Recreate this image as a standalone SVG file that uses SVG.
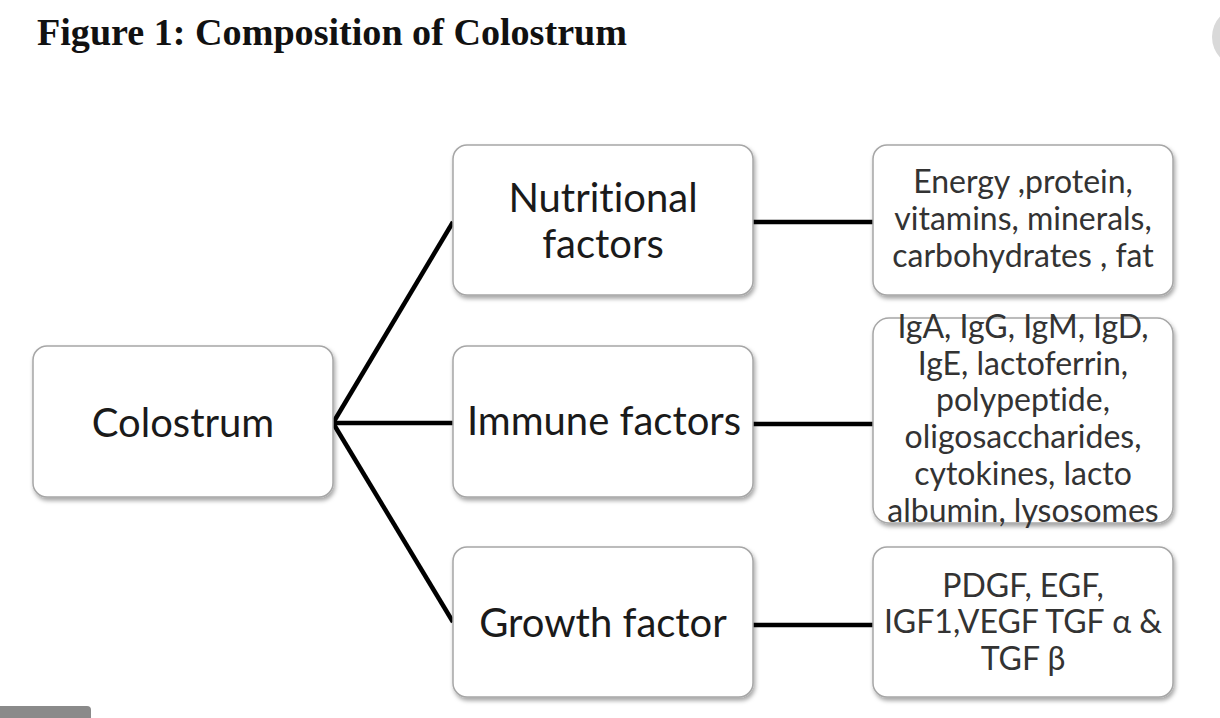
<svg xmlns="http://www.w3.org/2000/svg" width="1220" height="718" viewBox="0 0 1220 718">
<defs>
<filter id="sh" x="-10%" y="-10%" width="125%" height="130%">
<feDropShadow dx="1.5" dy="3" stdDeviation="2" flood-color="#000" flood-opacity="0.35"/>
</filter>
</defs>
<style>
.box{fill:#fff;stroke:#a6a6a6;stroke-width:1.5;filter:url(#sh)}
.main{font-family:Lato,"Open Sans",sans-serif;font-size:40px;fill:#1a1a1a;text-anchor:middle;font-variant-ligatures:none}
.small{font-family:Lato,"Open Sans",sans-serif;font-size:32px;fill:#333;text-anchor:middle;font-variant-ligatures:none}
.conn{stroke:#000;stroke-width:4.5;fill:none}
</style>
<rect width="1220" height="718" fill="#fff"/>
<text x="37" y="45" font-family="Liberation Serif,serif" font-weight="bold" font-size="37" fill="#111" textLength="590" lengthAdjust="spacingAndGlyphs">Figure 1: Composition of Colostrum</text>
<circle cx="1242" cy="37" r="30" fill="#d9d9d9"/>
<path d="M0 706 H87 Q91 706 91 710 V718 H0 Z" fill="#8a8a8a"/>
<g id="connectors">
<line class="conn" x1="333" y1="423" x2="453" y2="222"/>
<line class="conn" x1="333" y1="423" x2="453" y2="423"/>
<line class="conn" x1="333" y1="423" x2="453" y2="622"/>
<line class="conn" x1="753" y1="222" x2="873" y2="222"/>
<line class="conn" x1="753" y1="424" x2="873" y2="424"/>
<line class="conn" x1="753" y1="625" x2="873" y2="625"/>
</g>
<g id="colostrum">
<rect class="box" x="33" y="346" width="300" height="151" rx="14"/>
<text class="main" x="183" y="437">Colostrum</text>
</g>
<g id="nutritional">
<rect class="box" x="453" y="145" width="300" height="150" rx="14"/>
<text class="main" x="603" y="212">Nutritional</text>
<text class="main" x="603" y="258">factors</text>
</g>
<g id="immune">
<rect class="box" x="453" y="346" width="300" height="151" rx="14"/>
<text class="main" x="604" y="435">Immune factors</text>
</g>
<g id="growth">
<rect class="box" x="453" y="547" width="300" height="150" rx="14"/>
<text class="main" x="603" y="637">Growth factor</text>
</g>
<g id="nutritional-items">
<rect class="box" x="873" y="145" width="300" height="150" rx="14"/>
<text class="small" x="1023" y="193">Energy ,protein,</text>
<text class="small" x="1023" y="230">vitamins, minerals,</text>
<text class="small" x="1023" y="267">carbohydrates , fat</text>
</g>
<g id="immune-items">
<rect class="box" x="873" y="318" width="300" height="205" rx="16"/>
<text class="small" x="1023" y="338">IgA, IgG, IgM, IgD,</text>
<text class="small" x="1023" y="375">IgE, lactoferrin,</text>
<text class="small" x="1023" y="411">polypeptide,</text>
<text class="small" x="1023" y="448">oligosaccharides,</text>
<text class="small" x="1023" y="485">cytokines, lacto</text>
<text class="small" x="1023" y="522">albumin, lysosomes</text>
</g>
<g id="growth-items">
<rect class="box" x="873" y="547" width="300" height="150" rx="14"/>
<text class="small" x="1023" y="597">PDGF, EGF,</text>
<text class="small" x="1023" y="633">IGF1,VEGF TGF α &amp;</text>
<text class="small" x="1023" y="670">TGF β</text>
</g>
</svg>
